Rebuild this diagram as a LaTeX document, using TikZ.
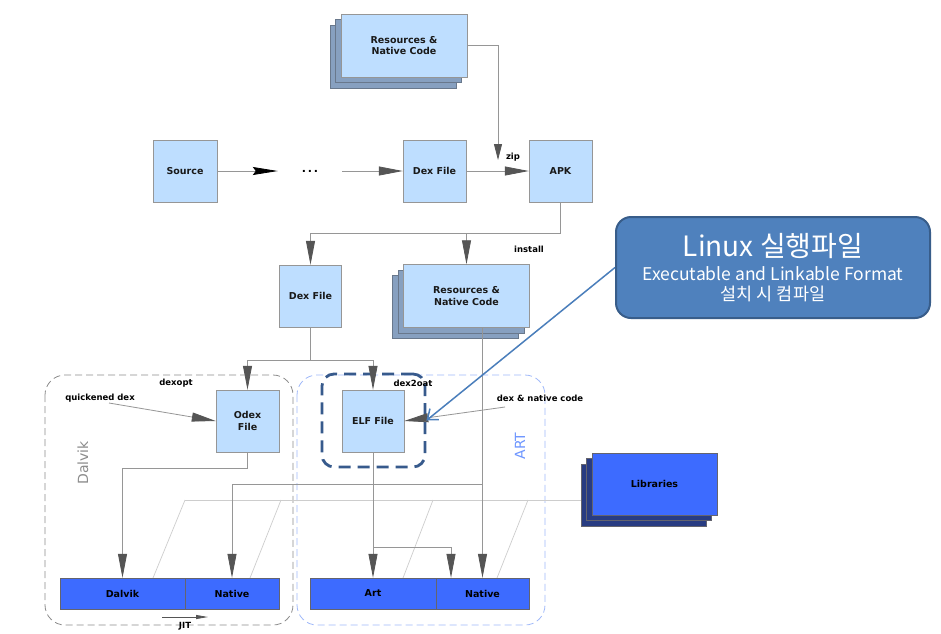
\documentclass[tikz,border=0pt]{standalone}
\usepackage{fontspec}
\setmainfont{DejaVu Sans}
\newfontfamily\kofont{Noto Sans CJK KR}
\usepackage{tikz}
\usetikzlibrary{arrows.meta,positioning}
\usepackage{xcolor}
\definecolor{boxblue}{RGB}{190,222,255}
\definecolor{boxedge}{RGB}{150,150,150}
\definecolor{stackblue}{RGB}{135,160,192}
\definecolor{stackedge}{RGB}{105,120,140}
\definecolor{barblue}{RGB}{61,107,255}
\definecolor{baredge}{RGB}{100,100,110}
\definecolor{barnavy}{RGB}{40,60,130}
\definecolor{linegray}{RGB}{150,150,150}
\definecolor{faintgray}{RGB}{205,205,205}
\definecolor{headgray}{RGB}{85,85,85}
\definecolor{calloutfill}{RGB}{79,129,189}
\definecolor{calloutedge}{RGB}{56,93,138}
\definecolor{calloutline}{RGB}{74,126,187}
\definecolor{dalvikgray}{RGB}{140,140,140}
\definecolor{artblue}{RGB}{160,185,250}
\definecolor{artlabel}{RGB}{110,150,255}
\definecolor{elfnavy}{RGB}{55,90,140}
\tikzstyle{filebox} = [rectangle, draw=boxedge, fill=boxblue, minimum width=62pt, minimum height=62pt, align=center, inner sep=1pt, text=black!90, font=\bfseries\fontsize{9.5}{11.5}\selectfont]
\tikzstyle{stackfront} = [filebox, minimum width=126pt, minimum height=63pt]
\tikzstyle{stackback} = [rectangle, draw=stackedge, fill=stackblue, minimum width=126pt, minimum height=63pt]
\tikzstyle{barcell} = [rectangle, draw=baredge, fill=barblue, minimum height=31pt, inner sep=0pt, font=\bfseries\fontsize{9.5}{11.5}\selectfont]
\tikzstyle{libback} = [rectangle, draw=baredge, fill=barnavy, minimum width=125pt, minimum height=62pt]
\tikzstyle{flow} = [draw=linegray, line width=0.8pt, -{Triangle[length=24pt,width=9pt,color=headgray]}]
\tikzstyle{link} = [draw=linegray, line width=0.8pt]
\tikzstyle{faint} = [draw=faintgray, line width=0.7pt]
\tikzstyle{tag} = [inner sep=1pt, font=\bfseries\fontsize{8.5}{10}\selectfont]

\begin{document}
\begin{tikzpicture}[x=1pt, y=-1pt]
    \path[fill=white, use as bounding box] (0,0) rectangle (941,633);

    % Containers
    \draw[dalvikgray, line width=0.8pt, dash pattern=on 7pt off 4pt, rounded corners=20pt] (45,375) rectangle (293,625);
    \draw[artblue, line width=0.8pt, dash pattern=on 7pt off 4pt, rounded corners=20pt] (297,375) rectangle (545,625);
    \node[rotate=90, text=dalvikgray, font=\fontsize{14}{16}\selectfont] (dalviklabel) at (83,463) {Dalvik};
    \node[rotate=90, text=artlabel, font=\fontsize{14}{16}\selectfont] (artlabel) at (520,446) {ART};

    % Library lines
    \coordinate (libin) at (592,500);
    \coordinate (libout) at (185,500);
    \draw[faint] (libin) -- (libout);
    \draw[faint] (185,500) -- (153,578);
    \draw[faint] (281,500) -- (250,578);
    \draw[faint] (433,500) -- (403,578);
    \draw[faint] (528,500) -- (497,578);

    % Build
    \node[stackback] (res1c) at (393,56.5) {};
    \node[stackback] (res1b) at (398.5,51) {};
    \node[stackfront] (res1) at (404,45.5) {Resources \&\\Native Code};
    \node[filebox, minimum width=64pt] (source) at (185,171) {Source};
    \node[minimum width=64pt, inner sep=0pt, font=\bfseries\fontsize{11}{12}\selectfont] (dots) at (310,171) {.\,.\,.};
    \node[filebox, minimum width=63pt] (dex1) at (434.5,171) {Dex File};
    \node[filebox, minimum width=63pt] (apk) at (560.5,171) {APK};

    % Install
    \node[filebox] (dex2) at (310.5,296) {Dex File};
    \node[stackback] (res2c) at (455.5,307) {};
    \node[stackback] (res2b) at (461,301.5) {};
    \node[stackfront] (res2) at (466.5,296) {Resources \&\\Native Code};

    % Runtime
    \node[filebox, minimum width=63pt] (odex) at (247.5,421) {Odex\\File};
    \node[filebox] (elf) at (373,421) {ELF File};
    \node[draw=elfnavy, line width=2.8pt, dash pattern=on 12pt off 7pt, rounded corners=12pt, minimum width=103pt, minimum height=93pt] (elfring) at (373.5,420.5) {};
    \node[barcell, minimum width=125pt] (dalvik) at (122.5,593.5) {Dalvik};
    \node[barcell, minimum width=94pt] (natdal) at (232,593.5) {Native};
    \node[barcell, minimum width=126pt] (art) at (373,593.5) {Art};
    \node[barcell, minimum width=93pt] (natart) at (482.5,593.5) {Native};
    \node[libback] (libc) at (643.5,495) {};
    \node[libback] (libb) at (649,489.5) {};
    \node[barcell, minimum width=125pt, minimum height=62pt] (lib) at (654.5,484) {Libraries};

    % Labels
    \node[tag] (zip) at (513,157) {zip};
    \node[tag] (install) at (529,249) {install};
    \node[tag] (dexopt) at (176,383) {dexopt};
    \node[tag] (dex2oat) at (413,383) {dex2oat};
    \node[tag] (quick) at (100,398) {quickened dex};
    \node[tag] (dnc) at (540,398) {dex \& native code};
    \node[tag] (jit) at (185,626) {JIT};

    % Connections
    \draw[link, -{Stealth[length=25pt,width=8pt,inset=3pt,color=black]}] (source) -- (dots);
    \draw[flow] (dots) -- (dex1);
    \draw[flow] (dex1) -- (apk);
    \coordinate (zipend) at (498,160);
    \draw[flow, -{Triangle[length=16pt,width=8pt,color=headgray]}] (res1.east) -| (zipend);
    \coordinate (apkbend) at (560.5,233);
    \draw[flow] (apk.south) -- (apkbend) -| (dex2);
    \draw[flow] (res2.north |- apkbend) -- (res2);
    \coordinate (dexbend) at (310.5,360);
    \draw[link] (dex2) -- (dexbend);
    \draw[flow] (dexbend) -| (odex);
    \draw[flow] (dexbend) -| (elf);
    \coordinate (quickfrom) at (109,403);
    \draw[flow] (quickfrom) -- (odex.west);
    \coordinate (dncfrom) at (505,407);
    \draw[flow] (dncfrom) -- (elf.east);
    \draw[flow] (odex.south) -- ++(0,16) -| (dalvik);
    \draw[flow] (res2.south -| natart) -- (natart);
    \coordinate (tap) at (482.5,484);
    \draw[flow] (tap) -| (natdal);
    \draw[flow] (elf) -- (art);
    \coordinate (elfbend) at (373,547);
    \draw[flow] (elfbend) -| ([xshift=-31.5pt]natart.north);
    \coordinate (jitfrom) at (162,617);
    \coordinate (jitto) at (208,617);
    \draw[draw=headgray, line width=0.8pt, -{Triangle[length=12pt,width=4pt,color=headgray]}] (jitfrom) -- (jitto);

    % Callout
    \node[rectangle, rounded corners=15pt, draw=calloutedge, line width=2pt, fill=calloutfill, minimum width=314pt, minimum height=101pt, text=white, align=center, inner sep=0pt, font=\kofont\fontsize{17.5}{24}\selectfont] (callout) at (773,267.5)
        {{\fontsize{28}{30}\selectfont Linux 실행파일}\\
         Executable and Linkable Format\\[-4pt]
         설치 시 컴파일};
    \draw[calloutline, line width=1.5pt, -{Straight Barb[length=9pt,width=14pt]}] (callout.west) -- (elfring.east);
\end{tikzpicture}
\end{document}
